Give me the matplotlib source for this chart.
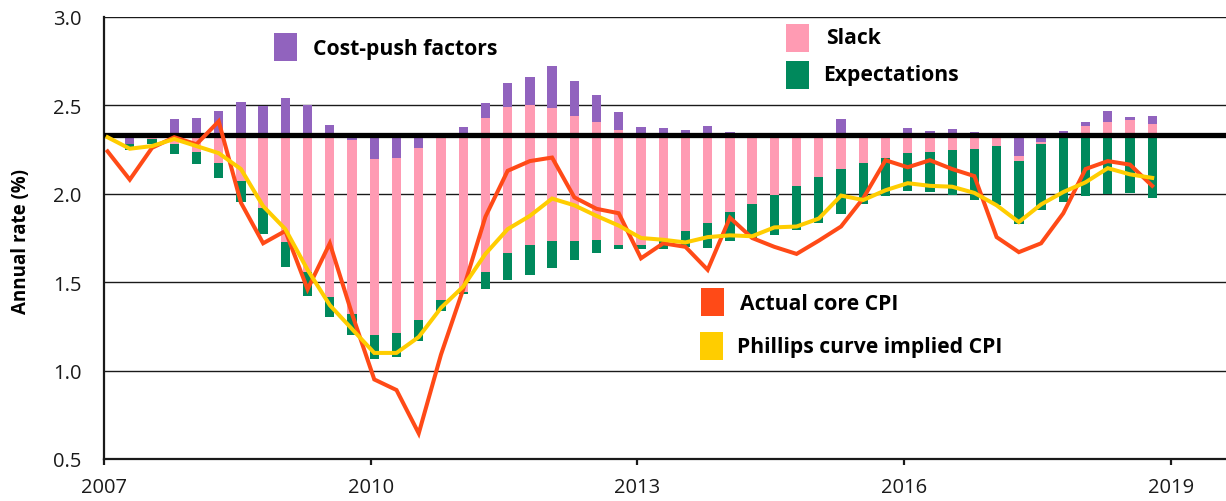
import numpy as np
import matplotlib
matplotlib.use("Agg")
import matplotlib.pyplot as plt
from matplotlib.patches import Rectangle

# ── Données ──────────────────────────────────────────────────────────────────
BASELINE = 2.335  # ligne noire épaisse (niveau de référence)

quarters = [f"{y}Q{q}" for y in range(2007, 2019) for q in range(1, 5)]

# Inflation core CPI observée (%), 2007Q1 → 2018Q4
core_cpi = [2.24, 2.08, 2.26, 2.32, 2.28, 2.41, 1.95, 1.72, 1.79, 1.46, 1.72, 1.32,
            0.95, 0.89, 0.645, 1.09, 1.46, 1.87, 2.13, 2.185, 2.205, 1.98, 1.915, 1.89,
            1.635, 1.72, 1.70, 1.57, 1.865, 1.75, 1.70, 1.66, 1.735, 1.815, 1.975, 2.19,
            2.15, 2.19, 2.14, 2.10, 1.755, 1.67, 1.72, 1.89, 2.14, 2.185, 2.165, 2.045]

# CPI implicite de la courbe de Phillips (%)
phillips_cpi = [2.32, 2.255, 2.27, 2.31, 2.27, 2.23, 2.14, 1.93, 1.80, 1.57, 1.37, 1.235,
                1.10, 1.10, 1.19, 1.355, 1.475, 1.66, 1.80, 1.875, 1.973, 1.935, 1.875, 1.82,
                1.75, 1.74, 1.725, 1.755, 1.765, 1.76, 1.81, 1.815, 1.86, 1.99, 1.965, 2.02,
                2.06, 2.045, 2.04, 2.005, 1.935, 1.84, 1.94, 2.01, 2.065, 2.145, 2.11, 2.09]

# Contributions (écart à la ligne de base), 2007Q2 → 2018Q4
expectations = [-0.034, -0.03, -0.056, -0.07, -0.087, -0.122, -0.145, -0.145, -0.136, -0.113,
                -0.119, -0.136, -0.136, -0.12, -0.06, -0.013, 0.096, 0.156, 0.168, 0.151,
                0.107, 0.07, 0.024, -0.022, -0.06, -0.09, -0.141, -0.162, -0.196, -0.226,
                -0.249, -0.258, -0.254, -0.232, -0.217, -0.215, -0.228, -0.254, -0.288, -0.333,
                -0.358, -0.371, -0.38, -0.35, -0.335, -0.33, -0.36]
slack = [0.0, -0.025, -0.056, -0.096, -0.16, -0.26, -0.416, -0.605, -0.778, -0.919,
         -0.983, -0.994, -0.99, -0.97, -0.938, -0.89, -0.876, -0.825, -0.793, -0.753,
         -0.708, -0.669, -0.646, -0.625, -0.59, -0.546, -0.50, -0.44, -0.38, -0.335,
         -0.29, -0.241, -0.194, -0.16, -0.132, -0.105, -0.098, -0.09, -0.08, -0.053,
         -0.023, -0.01, 0.008, 0.05, 0.073, 0.085, 0.06]
cost_push = [-0.056, 0.0, 0.089, 0.094, 0.136, 0.186, 0.164, 0.207, 0.17, 0.055,
             -0.03, -0.137, -0.132, -0.077, 0.0, 0.041, 0.083, 0.137, 0.16, 0.239,
             0.196, 0.156, 0.102, 0.043, 0.037, 0.028, 0.05, 0.015, -0.01, -0.005,
             0.0, 0.0, 0.089, 0.0, 0.0, 0.035, 0.02, 0.03, 0.015, -0.013,
             -0.124, -0.043, 0.011, 0.023, 0.062, 0.013, 0.047]

# ── Couleurs ─────────────────────────────────────────────────────────────────
C_PURPLE = "#9163be"
C_PINK = "#ff9bb3"
C_GREEN = "#00895c"
C_ORANGE = "#ff4a17"
C_YELLOW = "#ffcd00"

plt.rcParams["font.family"] = ["Open Sans", "DejaVu Sans"]

W, H = 1226, 502
fig = plt.figure(figsize=(W / 100, H / 100), dpi=100)
ax = fig.add_axes([104 / W, 1 - 460 / H, (W - 104) / W, (460 - 18) / H])

# positions temporelles (année décimale)
x_all = np.array([int(q[:4]) + (int(q[-1]) - 1) * 0.25 + 0.04 for q in quarters])
x_bar = x_all[1:]

E = np.array(expectations)
S = np.array(slack)
C = np.array(cost_push)
neg = np.minimum(E, 0) + np.minimum(S, 0) + np.minimum(C, 0)
bottom = BASELINE + neg

bw = 0.105
ax.bar(x_bar, np.abs(E), bottom=bottom, width=bw, color=C_GREEN, zorder=2)
ax.bar(x_bar, np.abs(S), bottom=bottom + np.abs(E), width=bw, color=C_PINK, zorder=2)
ax.bar(x_bar, np.abs(C), bottom=bottom + np.abs(E) + np.abs(S), width=bw,
       color=C_PURPLE, zorder=2)

ax.axhline(BASELINE, color="black", lw=3.8, zorder=3)
ax.plot(x_all, core_cpi, color=C_ORANGE, lw=2.9, zorder=4, solid_joinstyle="miter")
ax.plot(x_all, phillips_cpi, color=C_YELLOW, lw=2.9, zorder=5, solid_joinstyle="miter")

# ── Axes ─────────────────────────────────────────────────────────────────────
ax.set_xlim(2007.0, 2019.62)
ax.set_ylim(0.5, 3.0)
ax.set_yticks(np.arange(0.5, 3.01, 0.5))
ax.set_yticklabels([f"{v:.1f}" for v in np.arange(0.5, 3.01, 0.5)])
ax.set_xticks([2007, 2010, 2013, 2016, 2019])
ax.set_xticklabels(["2007", "2010", "2013", "2016", "2019"])
ax.yaxis.grid(True, color="#1a1a1a", lw=1.0, zorder=0)
ax.set_axisbelow(True)
for side in ["top", "right"]:
    ax.spines[side].set_visible(False)
for side in ["left", "bottom"]:
    ax.spines[side].set_linewidth(1.6)
    ax.spines[side].set_color("#1a1a1a")
ax.tick_params(axis="y", length=0, pad=16, labelsize=14.5, colors="#1a1a1a")
ax.tick_params(axis="x", length=4, width=1.6, pad=9, labelsize=14.5, colors="#1a1a1a")

fig.text(21 / W, 1 - 242 / H, "Annual rate (%)", rotation=90, ha="center", va="center",
         fontsize=13.5, fontweight="bold")

# ── Légende manuelle ─────────────────────────────────────────────────────────
legend_items = [
    (274, 34, C_PURPLE, 313, 49, "Cost-push factors"),
    (786, 25, C_PINK, 826, 38, "Slack"),
    (786, 62, C_GREEN, 823, 76, "Expectations"),
    (701, 289, C_ORANGE, 740, 304, "Actual core CPI"),
    (700, 333, C_YELLOW, 737, 347, "Phillips curve implied CPI"),
]
for sx, sy, col, tx, ty, label in legend_items:
    fig.add_artist(Rectangle((sx / W, 1 - (sy + 28) / H), 23 / W, 28 / H,
                             transform=fig.transFigure, color=col, lw=0))
    fig.text(tx / W, 1 - ty / H, label, ha="left", va="center",
             fontsize=15.2, fontweight="bold")

fig.savefig("out.png", dpi=100)
